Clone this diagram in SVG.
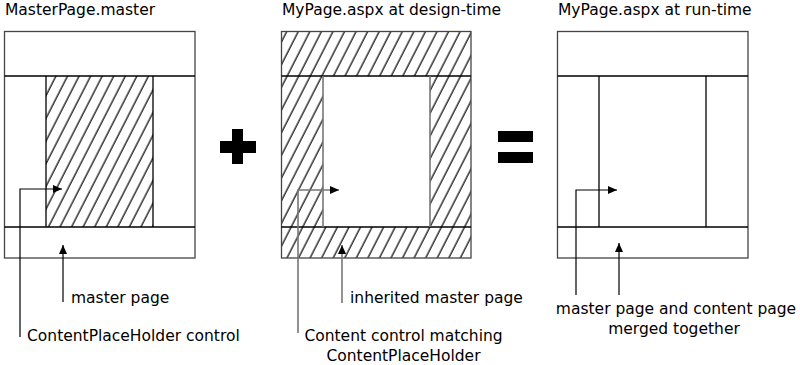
<svg xmlns="http://www.w3.org/2000/svg" width="800" height="365" viewBox="0 0 800 365">
<style>
text{font-family:"DejaVu Sans","Liberation Sans",sans-serif;font-size:15.5px;fill:#000}
.outer{fill:none;stroke:#444;stroke-width:1.3}
.ln{stroke:#000;stroke-width:1.3;fill:none}
.gl{stroke:#777;stroke-width:1.6;fill:none}
.con{stroke:#000;stroke-width:1.2;fill:none}
.cong{stroke:#777;stroke-width:1.6;fill:none}
</style>
<defs>
<pattern id="hatch" patternUnits="userSpaceOnUse" width="10.3" height="10.3" patternTransform="rotate(27)">
<line x1="2" y1="0" x2="2" y2="10.3" stroke="#000" stroke-width="1.2"/>
</pattern>
<marker id="ah" markerWidth="9" markerHeight="8" refX="9" refY="4" orient="auto" markerUnits="userSpaceOnUse">
<path d="M0,0 L9,4 L0,8 Z" fill="#000"/>
</marker>
</defs>
<rect width="800" height="365" fill="#fff"/>

<g id="master">
<text x="5" y="15">MasterPage.master</text>
<rect x="46" y="76" width="107" height="151" fill="url(#hatch)"/>
<rect class="outer" x="4.5" y="31.5" width="190.5" height="226.5"/>
<line class="ln" x1="4.5" y1="76" x2="195" y2="76"/>
<line class="ln" x1="4.5" y1="227" x2="195" y2="227"/>
<line class="ln" x1="46" y1="76" x2="46" y2="227"/>
<line class="ln" x1="153" y1="76" x2="153" y2="227"/>
</g>

<g id="plus">
<path d="M232,129 H243 V141 H256 V153 H243 V164 H232 V153 H220 V141 H232 Z" fill="#000"/>
</g>

<g id="design">
<text x="282" y="15">MyPage.aspx at design-time</text>
<rect x="281" y="31.5" width="190" height="226.5" fill="url(#hatch)"/>
<rect x="323" y="76" width="107" height="151" fill="#fff"/>
<rect class="outer" x="281.5" y="31.5" width="189.5" height="226.5"/>
<line class="ln" x1="281.5" y1="76" x2="471" y2="76"/>
<line class="ln" x1="281.5" y1="227" x2="471" y2="227"/>
<line class="gl" x1="323" y1="76" x2="323" y2="227"/>
<line class="gl" x1="430" y1="76" x2="430" y2="227"/>
</g>

<g id="equals">
<rect x="498" y="131" width="35" height="11" fill="#000"/>
<rect x="498" y="152" width="35" height="11" fill="#000"/>
</g>

<g id="runtime">
<text x="558" y="15">MyPage.aspx at run-time</text>
<rect class="outer" x="557.5" y="31.5" width="190.5" height="226.5"/>
<line class="ln" x1="557.5" y1="76" x2="748" y2="76"/>
<line class="ln" x1="557.5" y1="227" x2="748" y2="227"/>
<line class="ln" x1="599" y1="76" x2="599" y2="227"/>
<line class="ln" x1="706" y1="76" x2="706" y2="227"/>
</g>

<g id="connectors">
<path class="con" d="M20,337 V189 H62" marker-end="url(#ah)"/>
<path class="con" d="M63,302 V245" marker-end="url(#ah)"/>
<path class="cong" d="M298,333 V190 H339" marker-end="url(#ah)"/>
<path class="cong" d="M342,303 V245" marker-end="url(#ah)"/>
<path class="con" d="M576,295 V190 H617" marker-end="url(#ah)"/>
<path class="con" d="M619,295 V243" marker-end="url(#ah)"/>
</g>

<g id="labels">
<text x="71" y="303">master page</text>
<text x="27" y="341">ContentPlaceHolder control</text>
<text x="350" y="303">inherited master page</text>
<text x="403.5" y="341" text-anchor="middle">Content control matching</text>
<text x="403.5" y="361" text-anchor="middle">ContentPlaceHolder</text>
<text x="676" y="314" text-anchor="middle">master page and content page</text>
<text x="674" y="334" text-anchor="middle">merged together</text>
</g>
</svg>
